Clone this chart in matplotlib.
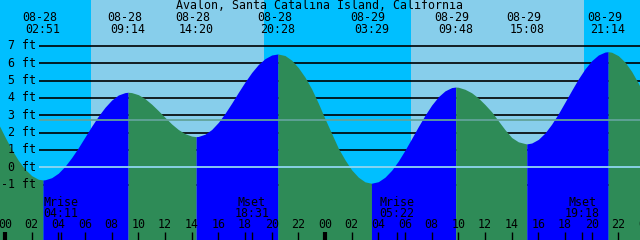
import matplotlib
matplotlib.use("Agg")
import matplotlib.pyplot as plt
import numpy as np

# ---------------- data ----------------
title = "Avalon, Santa Catalina Island, California"

# tide curve, hours since 08-28 00:00, heights in ft
hours = [-1, -0.5, 0, 0.5, 1, 1.5, 2, 2.5, 2.85, 3, 3.5, 4, 4.5, 5, 5.5,
         6, 6.5, 7, 7.5, 8, 8.5, 9, 9.233, 9.5, 10, 10.5, 11, 11.5,
         12, 12.5, 13, 13.5, 14, 14.333, 14.5, 15, 15.5, 16, 16.5, 17, 17.5,
         18, 18.5, 19, 19.5, 20, 20.467, 21, 21.5, 22, 22.5, 23, 23.5,
         24, 24.5, 25, 25.5, 26, 26.5, 27, 27.483, 28, 28.5, 29, 29.5,
         30, 30.5, 31, 31.5, 32, 32.5, 33, 33.5, 33.8, 34, 34.5, 35, 35.5,
         36, 36.5, 37, 37.5, 38, 38.5, 39, 39.133, 39.5, 40, 40.5, 41, 41.5,
         42, 42.5, 43, 43.5, 44, 44.5, 45, 45.233, 45.5, 46, 46.5, 47, 47.5,
         48]
heights = [3.31, 2.52, 1.75, 1.03, 0.40, -0.11, -0.48, -0.69, -0.73, -0.72, -0.60, -0.34, 0.06, 0.56, 1.13,
           1.75, 2.37, 2.95, 3.46, 3.88, 4.17, 4.31, 4.33, 4.31, 4.19, 3.96, 3.64, 3.27,
           2.88, 2.50, 2.18, 1.94, 1.80, 1.77, 1.78, 1.91, 2.18, 2.59, 3.11, 3.70, 4.32,
           4.92, 5.47, 5.93, 6.27, 6.48, 6.54, 6.45, 6.18, 5.75, 5.20, 4.52, 3.70,
           2.80, 1.95, 1.10, 0.43, -0.15, -0.57, -0.84, -0.92, -0.83, -0.57, -0.17, 0.36,
           0.99, 1.66, 2.35, 3.00, 3.59, 4.07, 4.41, 4.60, 4.63, 4.62, 4.50, 4.30, 4.00,
           3.62, 3.20, 2.68, 2.17, 1.72, 1.47, 1.37, 1.35, 1.40, 1.61, 1.98, 2.49, 3.09,
           3.76, 4.44, 5.10, 5.68, 6.15, 6.48, 6.65, 6.67, 6.64, 6.44, 6.07, 5.53, 4.85,
           4.07]

event_dates = ["08-28", "08-28", "08-28", "08-28", "08-29", "08-29", "08-29", "08-29"]
event_times = ["02:51", "09:14", "14:20", "20:28", "03:29", "09:48", "15:08", "21:14"]
event_days = [0, 0, 0, 0, 1, 1, 1, 1]

moon_labels = ["Mrise", "Mset", "Mrise", "Mset"]
moon_times = ["04:11", "18:31", "05:22", "19:18"]
moon_days = [0, 0, 1, 1]

sunrise_times = ["06:27", "06:27"]
sunset_times = ["19:26", "19:26"]

ft_levels = [7, 6, 5, 4, 3, 2, 1, 0, -1]
mean_level = 2.72
hour_ticks = list(range(0, 49, 2))

# ---------------- helpers ----------------
X0, XMAX = -0.375, 47.625
PX_PER_H = 640 / 48.0
Y0PX, PX_PER_FT = 167.3, 17.33


def hhmm(s, day=0):
    h, m = s.split(":")
    return day * 24 + int(h) + int(m) / 60.0


def py(ypx):
    return (Y0PX - ypx) / PX_PER_FT


def px_h(dx):
    return dx / PX_PER_H


NIGHT = "#00bfff"
DAY = "#87ceeb"
RISE = "#0000ff"
FALL = "#2e8b57"

plt.rcParams["font.family"] = ["DejaVu Sans Mono"]
FS = 8.4

fig = plt.figure(figsize=(6.4, 2.4), dpi=100)
ax = fig.add_axes([0, 0, 1, 1])
ax.set_xlim(X0, XMAX)
ax.set_ylim(py(240), py(0))
ax.axis("off")

# sky
ax.axvspan(X0 - 1, XMAX + 1, color=NIGHT, zorder=0, lw=0)
for d, (sr, ss) in enumerate(zip(sunrise_times, sunset_times)):
    ax.axvspan(hhmm(sr, d), hhmm(ss, d), color=DAY, zorder=0.5, lw=0)

# grid lines behind water
gx0 = X0 + px_h(39)
for lv in ft_levels:
    if lv != 0:
        ax.hlines(lv, gx0, XMAX + 1, color="black", lw=1.2, zorder=1)

# water
hrs = np.array(hours, dtype=float)
hts = np.array(heights, dtype=float)
ev_h = [hhmm(t, d) for t, d in zip(event_times, event_days)]
bounds = [hrs[0]] + ev_h + [hrs[-1]]
bottom = py(241)
for a, b in zip(bounds[:-1], bounds[1:]):
    inner = hrs[(hrs > a) & (hrs < b)]
    xs = np.concatenate([[a], inner, [b]])
    ys = np.interp(xs, hrs, hts)
    col = RISE if ys[-1] > ys[0] else FALL
    ax.fill_between(xs, ys, bottom, color=col, lw=0, zorder=2)

# lines over water
ax.hlines(mean_level, gx0, XMAX + 1, color="#62a39a", lw=1.3, zorder=3)
ax.hlines(0, gx0, XMAX + 1, color="#8fd6f0", lw=1.3, zorder=3)

# y labels
for lv in ft_levels:
    ax.text(X0 + px_h(36), lv, f"{lv} ft", ha="right", va="center",
            fontsize=FS, zorder=4)

# title
ax.text(X0 + px_h(320), py(5.5), title, ha="center", va="center",
        fontsize=FS, zorder=4)

# tide event labels
for dt, tm, h in zip(event_dates, event_times, ev_h):
    ax.text(h - px_h(3.5), py(17.5), dt, ha="center", va="center",
            fontsize=FS, zorder=4)
    ax.text(h, py(29.5), tm, ha="center", va="center", fontsize=FS, zorder=4)

# moon labels + ticks
for lab, tm, d in zip(moon_labels, moon_times, moon_days):
    h = hhmm(tm, d)
    ax.text(h, py(202.5), lab, ha="center", va="center", fontsize=FS, zorder=4)
    ax.text(h, py(213.5), tm, ha="center", va="center", fontsize=FS, zorder=4)
    ax.vlines(h, py(232), py(241), color="black", lw=1, zorder=4)

# hour ticks
for h in hour_ticks:
    ax.text(h, py(225), f"{h % 24:02d}", ha="center", va="center",
            fontsize=FS, zorder=4)
    lw = 3 if h % 24 == 0 else 1
    ax.vlines(h, py(232), py(241), color="black", lw=lw, zorder=4)

fig.savefig("out.png", dpi=100)
